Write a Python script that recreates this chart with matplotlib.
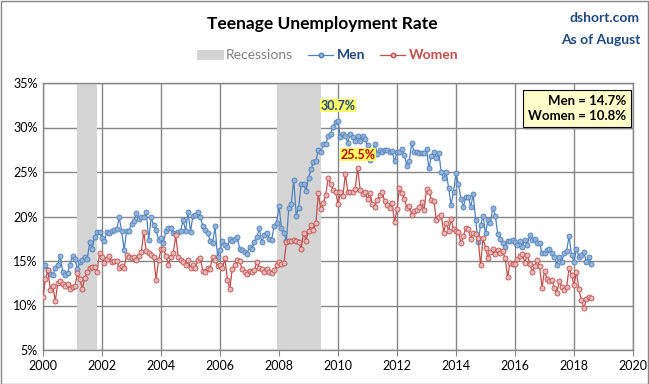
import numpy as np
import pandas as pd
import matplotlib
matplotlib.use("Agg")
import matplotlib.pyplot as plt
from matplotlib.patches import Rectangle
from matplotlib.lines import Line2D
import matplotlib.patheffects as pe

plt.rcParams['font.family'] = ['Lato', 'DejaVu Sans']

# monthly teen unemployment rate (%), Jan 2000 - Aug 2018
men = [
    14.4, 14.6, 14.0, 13.5, 13.4, 14.2, 14.6, 15.6, 13.8, 13.4, 13.6, 14.6,  # 2000
    15.6, 15.2, 14.1, 14.9, 15.1, 15.5, 15.2, 17.1, 16.3, 17.7, 18.3, 18.3,  # 2001
    17.6, 17.3, 18.3, 18.1, 18.4, 18.5, 18.6, 19.9, 18.4, 16.2, 18.4, 18.4,  # 2002
    19.2, 19.5, 20.4, 19.7, 19.9, 19.9, 20.5, 17.4, 19.9, 19.0, 18.5, 17.4,  # 2003
    17.6, 17.0, 18.4, 18.7, 18.7, 18.1, 18.1, 18.3, 18.4, 19.6, 18.4, 20.5,  # 2004
    18.3, 20.1, 20.2, 20.5, 19.9, 18.9, 18.5, 18.1, 17.3, 17.0, 18.9, 15.5,  # 2005
    16.2, 17.2, 16.8, 16.6, 17.5, 17.3, 17.5, 17.7, 16.4, 16.2, 16.0, 15.8,  # 2006
    16.6, 16.4, 17.1, 17.7, 18.7, 17.1, 17.9, 18.2, 17.5, 17.4, 18.9, 19.3,  # 2007
    21.2, 18.7, 18.1, 17.3, 21.0, 21.4, 24.1, 20.1, 21.0, 23.6, 23.6, 22.9,  # 2008
    24.3, 25.3, 26.1, 26.2, 27.5, 27.2, 28.1, 28.2, 29.0, 29.3, 30.1, 30.6,  # 2009
    30.7, 28.9, 29.3, 29.0, 28.3, 29.3, 28.9, 28.5, 29.0, 28.5, 29.1, 28.7,  # 2010
    28.0, 26.4, 27.1, 28.2, 27.0, 27.5, 27.3, 27.5, 27.5, 27.3, 27.4, 26.2,  # 2011
    27.3, 27.2, 27.6, 26.9, 25.7, 26.2, 28.3, 27.2, 27.3, 27.1, 27.1, 27.1,  # 2012
    27.6, 25.4, 26.8, 27.2, 26.6, 27.1, 25.0, 24.3, 25.0, 23.2, 21.3, 22.8,  # 2013
    24.9, 23.6, 22.0, 21.1, 22.2, 22.2, 21.1, 22.5, 19.6, 17.1, 19.0, 20.1,  # 2014
    18.1, 19.6, 19.3, 21.0, 20.1, 18.0, 17.5, 17.0, 16.6, 17.3, 17.3, 17.4,  # 2015
    17.1, 16.8, 17.3, 16.6, 17.4, 16.8, 17.9, 17.4, 17.5, 17.0, 17.0, 15.9,  # 2016
    15.9, 16.2, 16.4, 15.9, 15.5, 14.6, 15.5, 14.9, 15.9, 16.1, 17.8, 15.7,  # 2017
    14.9, 16.4, 15.5, 15.7, 16.0, 14.9, 15.5, 14.7,                          # 2018
]
women = [
    11.0, 13.0, 14.0, 11.7, 12.2, 10.5, 12.5, 12.8, 12.4, 12.2, 12.4, 11.9,  # 2000
    12.1, 12.2, 13.6, 13.0, 11.9, 13.1, 13.8, 14.2, 14.3, 14.3, 13.8, 15.9,  # 2001
    15.5, 14.8, 15.2, 15.6, 14.9, 15.0, 15.0, 14.2, 14.4, 14.2, 15.7, 15.5,  # 2002
    15.3, 15.4, 15.1, 15.6, 16.0, 18.3, 16.1, 15.9, 15.7, 15.5, 12.9, 15.1,  # 2003
    16.3, 16.3, 15.6, 14.6, 15.5, 15.9, 17.9, 15.4, 15.1, 14.9, 14.6, 15.1,  # 2004
    14.2, 14.6, 14.2, 15.1, 15.3, 13.9, 13.8, 14.2, 14.1, 15.5, 15.1, 14.4,  # 2005
    14.5, 14.2, 15.3, 12.9, 11.9, 14.1, 14.5, 15.1, 15.0, 14.1, 13.8, 13.5,  # 2006
    13.9, 13.8, 14.0, 14.9, 14.2, 14.1, 13.8, 14.1, 13.8, 13.6, 14.0, 14.5,  # 2007
    14.9, 14.7, 14.8, 17.1, 17.2, 17.3, 17.4, 17.3, 17.1, 16.4, 18.2, 17.3,  # 2008
    18.4, 19.0, 18.5, 19.3, 22.6, 20.8, 21.5, 22.4, 24.3, 23.7, 23.0, 22.8,  # 2009
    21.4, 22.7, 22.3, 24.8, 22.7, 22.8, 22.7, 23.1, 25.5, 23.0, 22.5, 22.7,  # 2010
    22.0, 22.6, 21.4, 21.1, 21.9, 22.4, 22.7, 21.7, 21.3, 21.0, 21.5, 19.4,  # 2011
    20.8, 23.2, 22.6, 22.0, 21.0, 21.2, 20.2, 20.6, 20.7, 21.1, 21.6, 20.7,  # 2012
    23.1, 22.8, 21.9, 21.7, 19.6, 19.9, 20.2, 18.2, 19.3, 18.4, 19.7, 18.6,  # 2013
    18.4, 18.3, 17.0, 17.8, 18.7, 18.6, 17.5, 18.1, 18.0, 17.6, 14.5, 17.6,  # 2014
    16.5, 15.3, 16.0, 16.3, 15.8, 16.2, 15.9, 16.1, 15.3, 13.2, 14.8, 14.7,  # 2015
    14.7, 15.2, 15.6, 15.8, 14.8, 15.7, 14.7, 13.8, 14.4, 15.1, 14.4, 12.0,  # 2016
    13.9, 13.0, 12.8, 12.9, 12.0, 11.4, 12.7, 12.1, 11.7, 12.1, 14.2, 13.4,  # 2017
    12.3, 13.8, 11.8, 10.6, 9.7, 10.7, 11.0, 10.8,                           # 2018
]
recessions = [('2001-03', '2001-11'), ('2007-12', '2009-06')]

months = pd.date_range('2000-01-01', periods=len(men), freq='MS')
x = months.year + (months.month - 1) / 12.0


def dec_year(s):
    d = pd.Timestamp(s)
    return d.year + (d.month - 1) / 12.0


men_c = '#4F81BD'
women_c = '#C0504D'
grid_c = '#868686'

fig = plt.figure(figsize=(6.49, 3.84), dpi=100)
ax = fig.add_axes([43 / 649, 1 - 350 / 384, 590 / 649, 267 / 384])

for start, end in recessions:
    ax.axvspan(dec_year(start), dec_year(end), color='#D4D4D4', lw=0, zorder=1)

ax.plot(x, men, color=men_c, lw=0.9, marker='o', ms=3.6, mfc='#95B3D7',
        mec=men_c, mew=0.6, zorder=3)
ax.plot(x, women, color=women_c, lw=0.9, marker='o', ms=3.6, mfc='#E6B9B8',
        mec=women_c, mew=0.6, zorder=3)

ax.set_xlim(2000, 2020)
ax.set_ylim(5, 35)
ax.set_xticks(range(2000, 2021, 2))
ax.set_yticks(range(5, 36, 5))
ax.set_yticklabels([f'{v}%' for v in range(5, 36, 5)])
ax.grid(True, color=grid_c, lw=1.0, zorder=0)
ax.set_axisbelow(True)
for s in ax.spines.values():
    s.set_color(grid_c)
    s.set_linewidth(1.0)
ax.tick_params(axis='both', labelsize=9, colors='black', length=4, color=grid_c)
ax.tick_params(axis='y', length=0, pad=4)
ax.tick_params(axis='x', direction='out')

# peak labels
i_m = int(np.argmax(men))
i_w = int(np.argmax(women))
ax.annotate(f'{men[i_m]:.1f}%', (x[i_m], men[i_m]), xytext=(0, 7),
            textcoords='offset points', ha='center', va='bottom',
            fontsize=9, fontweight='bold', color='#1F497D',
            bbox=dict(boxstyle='square,pad=0.05', fc='#FFFF66', ec='none'),
            zorder=5)
ax.annotate(f'{women[i_w]:.1f}%', (x[i_w], women[i_w]), xytext=(0, 5),
            textcoords='offset points', ha='center', va='bottom',
            fontsize=9, fontweight='bold', color='#C00000',
            bbox=dict(boxstyle='square,pad=0.05', fc='#FFFF66', ec='none'),
            zorder=5)

# latest value box
ax.text(0.988, 0.955, f'Men = {men[-1]:.1f}%\nWomen = {women[-1]:.1f}%',
        transform=ax.transAxes, ha='right', va='top', fontsize=9.5,
        fontweight='bold', linespacing=1.3, zorder=6,
        bbox=dict(boxstyle='square,pad=0.4', fc='#FFFFCC', ec='black', lw=0.8,
                  path_effects=[pe.withSimplePatchShadow(offset=(2, -2),
                                                         shadow_rgbFace='#999999')]))

# title and side text
fig.text(322 / 649, 1 - 24 / 384, 'Teenage Unemployment Rate', ha='center',
         va='center', fontsize=12.5, fontweight='bold')
fig.text(640 / 649, 1 - 18 / 384, 'dshort.com', ha='right', va='center',
         fontsize=10, color='#1F497D', fontweight='bold')
fig.text(640 / 649, 1 - 40 / 384, 'As of August', ha='right', va='center',
         fontsize=10, color='#1F497D', fontweight='bold')

# legend row
fig.patches.append(Rectangle((197 / 649, 1 - 60 / 384), 27 / 649, 10 / 384,
                             transform=fig.transFigure, fc='#D4D4D4', ec='none'))
fig.text(226 / 649, 1 - 55 / 384, 'Recessions', ha='left', va='center',
         fontsize=10, color='#808080')
fig.lines.append(Line2D([308 / 649, 333 / 649], [1 - 55 / 384] * 2,
                        transform=fig.transFigure, color=men_c, lw=0.9))
fig.lines.append(Line2D([320.5 / 649], [1 - 55 / 384], transform=fig.transFigure,
                        color=men_c, marker='o', ms=3.2, mfc='#95B3D7', mec=men_c))
fig.text(337 / 649, 1 - 55 / 384, 'Men', ha='left', va='center',
         fontsize=10, color='#1F497D', fontweight='bold')
fig.lines.append(Line2D([380 / 649, 405 / 649], [1 - 55 / 384] * 2,
                        transform=fig.transFigure, color=women_c, lw=0.9))
fig.lines.append(Line2D([392.5 / 649], [1 - 55 / 384], transform=fig.transFigure,
                        color=women_c, marker='o', ms=3.2, mfc='#E6B9B8', mec=women_c))
fig.text(409 / 649, 1 - 55 / 384, 'Women', ha='left', va='center',
         fontsize=10, color=women_c, fontweight='bold')

# outer border
fig.patches.append(Rectangle((0.5 / 649, 0.5 / 384), 1 - 1.5 / 649, 1 - 1.5 / 384,
                             transform=fig.transFigure, fc='none', ec='#868686', lw=1))

fig.savefig('out.png', dpi=100)
